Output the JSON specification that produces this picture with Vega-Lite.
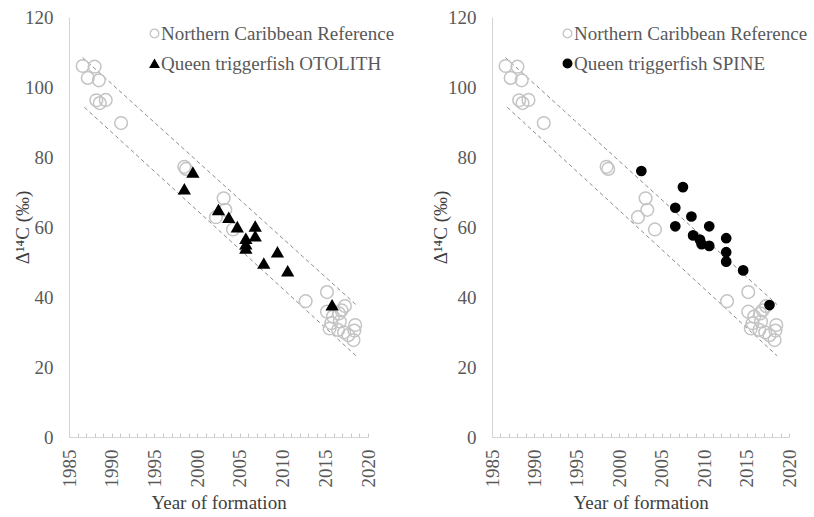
{
  "$schema": "https://vega.github.io/schema/vega-lite/v6.json",
  "padding": {"left": 13, "top": 8, "right": 5, "bottom": 5},
  "bounds": "flush",
  "spacing": 124,
  "datasets": {
    "lines": [
      {"x": 1986.6, "y": 108.4, "x2": 2018.6, "y2": 37.8},
      {"x": 1986.8, "y": 94.2, "x2": 2018.6, "y2": 23.2}
    ],
    "otolith": [
      {"year": 1986.6, "d14c": 106.0, "series": "Northern Caribbean Reference"},
      {"year": 1988.0, "d14c": 105.8, "series": "Northern Caribbean Reference"},
      {"year": 1987.2, "d14c": 102.6, "series": "Northern Caribbean Reference"},
      {"year": 1988.5, "d14c": 101.9, "series": "Northern Caribbean Reference"},
      {"year": 1988.2, "d14c": 96.2, "series": "Northern Caribbean Reference"},
      {"year": 1988.6, "d14c": 95.4, "series": "Northern Caribbean Reference"},
      {"year": 1989.3, "d14c": 96.3, "series": "Northern Caribbean Reference"},
      {"year": 1991.1, "d14c": 89.7, "series": "Northern Caribbean Reference"},
      {"year": 1998.5, "d14c": 77.2, "series": "Northern Caribbean Reference"},
      {"year": 1998.7, "d14c": 76.6, "series": "Northern Caribbean Reference"},
      {"year": 2003.1, "d14c": 68.2, "series": "Northern Caribbean Reference"},
      {"year": 2003.3, "d14c": 64.9, "series": "Northern Caribbean Reference"},
      {"year": 2002.2, "d14c": 62.8, "series": "Northern Caribbean Reference"},
      {"year": 2004.2, "d14c": 59.3, "series": "Northern Caribbean Reference"},
      {"year": 2012.7, "d14c": 38.8, "series": "Northern Caribbean Reference"},
      {"year": 2015.2, "d14c": 41.4, "series": "Northern Caribbean Reference"},
      {"year": 2015.2, "d14c": 35.8, "series": "Northern Caribbean Reference"},
      {"year": 2015.9, "d14c": 34.4, "series": "Northern Caribbean Reference"},
      {"year": 2016.6, "d14c": 35.3, "series": "Northern Caribbean Reference"},
      {"year": 2017.3, "d14c": 37.4, "series": "Northern Caribbean Reference"},
      {"year": 2016.9, "d14c": 36.2, "series": "Northern Caribbean Reference"},
      {"year": 2016.7, "d14c": 33.0, "series": "Northern Caribbean Reference"},
      {"year": 2015.7, "d14c": 32.5, "series": "Northern Caribbean Reference"},
      {"year": 2015.5, "d14c": 31.0, "series": "Northern Caribbean Reference"},
      {"year": 2016.5, "d14c": 30.6, "series": "Northern Caribbean Reference"},
      {"year": 2017.2, "d14c": 29.9, "series": "Northern Caribbean Reference"},
      {"year": 2018.5, "d14c": 32.0, "series": "Northern Caribbean Reference"},
      {"year": 2018.4, "d14c": 30.4, "series": "Northern Caribbean Reference"},
      {"year": 2018.3, "d14c": 27.7, "series": "Northern Caribbean Reference"},
      {"year": 2017.7, "d14c": 29.1, "series": "Northern Caribbean Reference"},
      {"year": 1999.5, "d14c": 75.6, "series": "Queen triggerfish OTOLITH"},
      {"year": 1998.5, "d14c": 70.8, "series": "Queen triggerfish OTOLITH"},
      {"year": 2002.5, "d14c": 64.9, "series": "Queen triggerfish OTOLITH"},
      {"year": 2003.7, "d14c": 62.7, "series": "Queen triggerfish OTOLITH"},
      {"year": 2004.7, "d14c": 60.0, "series": "Queen triggerfish OTOLITH"},
      {"year": 2006.8, "d14c": 60.2, "series": "Queen triggerfish OTOLITH"},
      {"year": 2006.8, "d14c": 57.4, "series": "Queen triggerfish OTOLITH"},
      {"year": 2005.7, "d14c": 56.7, "series": "Queen triggerfish OTOLITH"},
      {"year": 2005.7, "d14c": 55.1, "series": "Queen triggerfish OTOLITH"},
      {"year": 2005.7, "d14c": 53.9, "series": "Queen triggerfish OTOLITH"},
      {"year": 2009.4, "d14c": 52.8, "series": "Queen triggerfish OTOLITH"},
      {"year": 2007.8, "d14c": 49.6, "series": "Queen triggerfish OTOLITH"},
      {"year": 2010.6, "d14c": 47.4, "series": "Queen triggerfish OTOLITH"},
      {"year": 2015.8, "d14c": 37.7, "series": "Queen triggerfish OTOLITH"}
    ],
    "spine": [
      {"year": 1986.6, "d14c": 106.0, "series": "Northern Caribbean Reference"},
      {"year": 1988.0, "d14c": 105.8, "series": "Northern Caribbean Reference"},
      {"year": 1987.2, "d14c": 102.6, "series": "Northern Caribbean Reference"},
      {"year": 1988.5, "d14c": 101.9, "series": "Northern Caribbean Reference"},
      {"year": 1988.2, "d14c": 96.2, "series": "Northern Caribbean Reference"},
      {"year": 1988.6, "d14c": 95.4, "series": "Northern Caribbean Reference"},
      {"year": 1989.3, "d14c": 96.3, "series": "Northern Caribbean Reference"},
      {"year": 1991.1, "d14c": 89.7, "series": "Northern Caribbean Reference"},
      {"year": 1998.5, "d14c": 77.2, "series": "Northern Caribbean Reference"},
      {"year": 1998.7, "d14c": 76.6, "series": "Northern Caribbean Reference"},
      {"year": 2003.1, "d14c": 68.2, "series": "Northern Caribbean Reference"},
      {"year": 2003.3, "d14c": 64.9, "series": "Northern Caribbean Reference"},
      {"year": 2002.2, "d14c": 62.8, "series": "Northern Caribbean Reference"},
      {"year": 2004.2, "d14c": 59.3, "series": "Northern Caribbean Reference"},
      {"year": 2012.7, "d14c": 38.8, "series": "Northern Caribbean Reference"},
      {"year": 2015.2, "d14c": 41.4, "series": "Northern Caribbean Reference"},
      {"year": 2015.2, "d14c": 35.8, "series": "Northern Caribbean Reference"},
      {"year": 2015.9, "d14c": 34.4, "series": "Northern Caribbean Reference"},
      {"year": 2016.6, "d14c": 35.3, "series": "Northern Caribbean Reference"},
      {"year": 2017.3, "d14c": 37.4, "series": "Northern Caribbean Reference"},
      {"year": 2016.9, "d14c": 36.2, "series": "Northern Caribbean Reference"},
      {"year": 2016.7, "d14c": 33.0, "series": "Northern Caribbean Reference"},
      {"year": 2015.7, "d14c": 32.5, "series": "Northern Caribbean Reference"},
      {"year": 2015.5, "d14c": 31.0, "series": "Northern Caribbean Reference"},
      {"year": 2016.5, "d14c": 30.6, "series": "Northern Caribbean Reference"},
      {"year": 2017.2, "d14c": 29.9, "series": "Northern Caribbean Reference"},
      {"year": 2018.5, "d14c": 32.0, "series": "Northern Caribbean Reference"},
      {"year": 2018.4, "d14c": 30.4, "series": "Northern Caribbean Reference"},
      {"year": 2018.3, "d14c": 27.7, "series": "Northern Caribbean Reference"},
      {"year": 2017.7, "d14c": 29.1, "series": "Northern Caribbean Reference"},
      {"year": 2002.6, "d14c": 76.0, "series": "Queen triggerfish SPINE"},
      {"year": 2007.5, "d14c": 71.4, "series": "Queen triggerfish SPINE"},
      {"year": 2006.6, "d14c": 65.5, "series": "Queen triggerfish SPINE"},
      {"year": 2006.6, "d14c": 60.2, "series": "Queen triggerfish SPINE"},
      {"year": 2008.5, "d14c": 63.0, "series": "Queen triggerfish SPINE"},
      {"year": 2010.6, "d14c": 60.2, "series": "Queen triggerfish SPINE"},
      {"year": 2008.7, "d14c": 57.6, "series": "Queen triggerfish SPINE"},
      {"year": 2009.5, "d14c": 56.4, "series": "Queen triggerfish SPINE"},
      {"year": 2009.7, "d14c": 55.1, "series": "Queen triggerfish SPINE"},
      {"year": 2010.6, "d14c": 54.6, "series": "Queen triggerfish SPINE"},
      {"year": 2012.6, "d14c": 56.8, "series": "Queen triggerfish SPINE"},
      {"year": 2012.6, "d14c": 52.8, "series": "Queen triggerfish SPINE"},
      {"year": 2012.6, "d14c": 50.1, "series": "Queen triggerfish SPINE"},
      {"year": 2014.6, "d14c": 47.6, "series": "Queen triggerfish SPINE"},
      {"year": 2017.7, "d14c": 37.7, "series": "Queen triggerfish SPINE"}
    ]
  },
  "hconcat": [
    {
      "width": 299,
      "height": 420,
      "layer": [
        {
          "data": {"name": "lines"},
          "mark": {"type": "rule", "color": "#8c8c8c", "strokeDash": [4, 3], "strokeWidth": 1},
          "encoding": {
            "x": {"field": "x", "type": "quantitative", "scale": {"domain": [1985, 2020], "nice": false}},
            "y": {"field": "y", "type": "quantitative", "scale": {"domain": [0, 120], "nice": false}},
            "x2": {"field": "x2"},
            "y2": {"field": "y2"}
          }
        },
        {
          "data": {"name": "otolith"},
          "mark": {"type": "point", "strokeWidth": 1.5, "opacity": 1},
          "encoding": {
            "x": {"field": "year", "type": "quantitative", "scale": {"domain": [1985, 2020], "nice": false},
              "axis": {"title": "Year of formation", "values": [1985,1986,1987,1988,1989,1990,1991,1992,1993,1994,1995,1996,1997,1998,1999,2000,2001,2002,2003,2004,2005,2006,2007,2008,2009,2010,2011,2012,2013,2014,2015,2016,2017,2018,2019,2020],
                "tickCount": 40, "format": "d", "labelExpr": "datum.value % 5 === 0 ? datum.label : ''", "labelOverlap": false, "labelAngle": 270, "tickSize": -4, "labelPadding": 16, "titlePadding": 6}},
            "y": {"field": "d14c", "type": "quantitative", "scale": {"domain": [0, 120], "nice": false},
              "axis": {"title": "Δ¹⁴C (‰)", "values": [0, 20, 40, 60, 80, 100, 120], "ticks": false, "labelPadding": 16, "titlePadding": -8}},
            "shape": {"field": "series", "type": "nominal",
              "scale": {"domain": ["Northern Caribbean Reference", "Queen triggerfish OTOLITH"], "range": ["circle", "triangle-up"]},
              "legend": {"title": null, "orient": "none", "legendX": 76, "legendY": 7}},
            "fill": {"field": "series", "type": "nominal",
              "scale": {"domain": ["Northern Caribbean Reference", "Queen triggerfish OTOLITH"], "range": ["rgba(255,255,255,0)", "#000000"]},
              "legend": {"title": null, "orient": "none", "legendX": 76, "legendY": 7}},
            "stroke": {"field": "series", "type": "nominal",
              "scale": {"domain": ["Northern Caribbean Reference", "Queen triggerfish OTOLITH"], "range": ["#c4c4c4", "#000000"]},
              "legend": {"title": null, "orient": "none", "legendX": 76, "legendY": 7}},
            "size": {"field": "series", "type": "nominal",
              "scale": {"domain": ["Northern Caribbean Reference", "Queen triggerfish OTOLITH"], "range": [160, 115]},
              "legend": null}
          }
        }
      ],
      "resolve": {"scale": {"shape": "independent", "fill": "independent", "stroke": "independent"}}
    },
    {
      "width": 297,
      "height": 420,
      "layer": [
        {
          "data": {"name": "lines"},
          "mark": {"type": "rule", "color": "#8c8c8c", "strokeDash": [4, 3], "strokeWidth": 1},
          "encoding": {
            "x": {"field": "x", "type": "quantitative", "scale": {"domain": [1985, 2020], "nice": false}},
            "y": {"field": "y", "type": "quantitative", "scale": {"domain": [0, 120], "nice": false}},
            "x2": {"field": "x2"},
            "y2": {"field": "y2"}
          }
        },
        {
          "data": {"name": "spine"},
          "mark": {"type": "point", "strokeWidth": 1.5, "opacity": 1},
          "encoding": {
            "x": {"field": "year", "type": "quantitative", "scale": {"domain": [1985, 2020], "nice": false},
              "axis": {"title": "Year of formation", "values": [1985,1986,1987,1988,1989,1990,1991,1992,1993,1994,1995,1996,1997,1998,1999,2000,2001,2002,2003,2004,2005,2006,2007,2008,2009,2010,2011,2012,2013,2014,2015,2016,2017,2018,2019,2020],
                "tickCount": 40, "format": "d", "labelExpr": "datum.value % 5 === 0 ? datum.label : ''", "labelOverlap": false, "labelAngle": 270, "tickSize": -4, "labelPadding": 16, "titlePadding": 6}},
            "y": {"field": "d14c", "type": "quantitative", "scale": {"domain": [0, 120], "nice": false},
              "axis": {"title": "Δ¹⁴C (‰)", "values": [0, 20, 40, 60, 80, 100, 120], "ticks": false, "labelPadding": 16, "titlePadding": -3}},
            "shape": {"field": "series", "type": "nominal",
              "scale": {"domain": ["Northern Caribbean Reference", "Queen triggerfish SPINE"], "range": ["circle", "circle"]},
              "legend": {"title": null, "orient": "none", "legendX": 66, "legendY": 7}},
            "fill": {"field": "series", "type": "nominal",
              "scale": {"domain": ["Northern Caribbean Reference", "Queen triggerfish SPINE"], "range": ["rgba(255,255,255,0)", "#000000"]},
              "legend": {"title": null, "orient": "none", "legendX": 66, "legendY": 7}},
            "stroke": {"field": "series", "type": "nominal",
              "scale": {"domain": ["Northern Caribbean Reference", "Queen triggerfish SPINE"], "range": ["#c4c4c4", "#000000"]},
              "legend": {"title": null, "orient": "none", "legendX": 66, "legendY": 7}},
            "size": {"field": "series", "type": "nominal",
              "scale": {"domain": ["Northern Caribbean Reference", "Queen triggerfish SPINE"], "range": [160, 85]},
              "legend": null}
          }
        }
      ],
      "resolve": {"scale": {"shape": "independent", "fill": "independent", "stroke": "independent"}}
    }
  ],
  "resolve": {"scale": {"shape": "independent", "fill": "independent", "stroke": "independent", "size": "independent"}, "legend": {"shape": "independent", "fill": "independent", "stroke": "independent"}},
  "config": {
    "view": {"stroke": null},
    "font": "'Liberation Serif', 'Times New Roman', serif",
    "axis": {
      "grid": false,
      "domainColor": "#d4d4d4",
      "domainWidth": 1,
      "tickColor": "#c8c8c8",
      "labelFont": "'Liberation Serif', 'Times New Roman', serif",
      "labelFontSize": 19,
      "labelColor": "#595959",
      "titleFont": "'Liberation Serif', 'Times New Roman', serif",
      "titleFontSize": 19,
      "titleFontWeight": "normal",
      "titleColor": "#404040"
    },
    "legend": {
      "labelFont": "'Liberation Serif', 'Times New Roman', serif",
      "labelFontSize": 19,
      "labelColor": "#595959",
      "labelLimit": 400,
      "symbolSize": 75,
      "symbolStrokeWidth": 1.3,
      "rowPadding": 10,
      "labelOffset": -3
    }
  }
}
